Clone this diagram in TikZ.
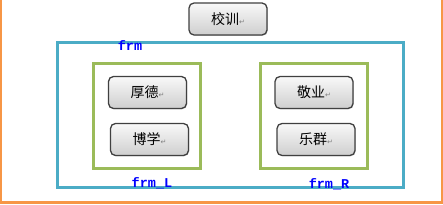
\documentclass[tikz,border=0pt]{standalone}
\usepackage{fontspec}
\setmonofont{Liberation Mono}
\newfontfamily\cjk{Noto Sans CJK SC}
\newfontfamily\symb{DejaVu Sans}
\usetikzlibrary{shadows}

\definecolor{frmblue}{HTML}{4BACC6}
\definecolor{frmgreen}{HTML}{9BBB59}
\definecolor{pageorange}{HTML}{F79646}

% paragraph mark after each button text
\newcommand{\parmark}{{\symb\fontsize{7}{7}\selectfont\color{gray}↵}}

\begin{document}
\begin{tikzpicture}[x=1pt, y=-1pt,
	btn/.style={draw=black!75, line width=1.3pt, rounded corners=5pt,
		top color=gray!5, bottom color=gray!38,
		drop shadow={shadow xshift=0.8pt, shadow yshift=-0.8pt, opacity=0.3},
		minimum width=78pt, minimum height=32pt, inner sep=0pt,
		font=\cjk\fontsize{14}{14}\selectfont},
	box/.style={draw, inner sep=0pt},
	lbl/.style={text=blue, font=\ttfamily\bfseries\fontsize{13.5}{13.5}\selectfont, inner sep=0pt}]
	\useasboundingbox (0,0) rectangle (443,205);
	\draw[pageorange, line width=2.5pt] (1.2,0) -- (1.2,202.5) -- (441.8,202.5) -- (441.8,0);
	% frames
	\node[box, frmblue, line width=3pt, minimum width=346pt, minimum height=144pt] (frm) at (230,115) {};
	\node[box, frmgreen, line width=3pt, minimum width=107pt, minimum height=104pt] (frmL) at (146.5,116) {};
	\node[box, frmgreen, line width=3pt, minimum width=107pt, minimum height=104pt] (frmR) at (313.5,116) {};
	% buttons
	\node[btn] (motto) at (228,19) {校训\parmark};
	\node[btn] (houde) at (147.5,92.5) {厚德\parmark};
	\node[btn] (boxue) at (149.5,139.5) {博学\parmark};
	\node[btn] (jingye) at (314,92.5) {敬业\parmark};
	\node[btn] (lequn) at (316,139.5) {乐群\parmark};
	% frame names
	\node[lbl] (frmname) at (130,46) {frm};
	\node[lbl] (frmLname) at (152,183) {frm\_L};
	\node[lbl] (frmRname) at (329,184) {frm\_R};
\end{tikzpicture}
\end{document}
